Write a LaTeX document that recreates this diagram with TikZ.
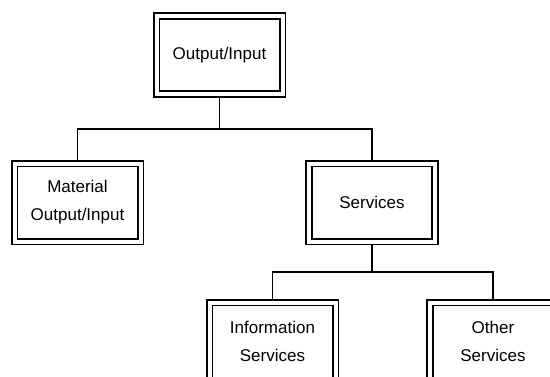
\documentclass[tikz,border=0pt]{standalone}
\usepackage{fontspec}
\setmainfont{Liberation Sans}

\begin{document}
\begin{tikzpicture}[x=1pt, y=1pt,
  box/.style={draw, double, line width=1.8pt, double distance=4pt,
    minimum width=126pt, minimum height=78pt, outer sep=3.8pt,
    align=center, font=\fontsize{17}{28}\selectfont},
  link/.style={line width=1.8pt}]
  \useasboundingbox (0,0) rectangle (550,-376);

  % Boxes
  \node[box] (out)  at (219.5,-55)   {Output/Input};
  \node[box] (mat)  at (77.5,-202.5) {Material\\Output/Input};
  \node[box] (serv) at (372,-202.5)  {Services};
  \node[box] (info) at (272.5,-341.5) {Information\\Services};
  \node[box] (oth)  at (493,-341.5)  {Other\\Services};

  % Connectors
  \draw[link] (out.south) -- ++(0,-31) coordinate (j1);
  \draw[link] (mat.north) |- (j1) -| (serv.north);
  \draw[link] (serv.south) -- ++(0,-27) coordinate (j2);
  \draw[link] (info.north) |- (j2) -| (oth.north);
\end{tikzpicture}
\end{document}
